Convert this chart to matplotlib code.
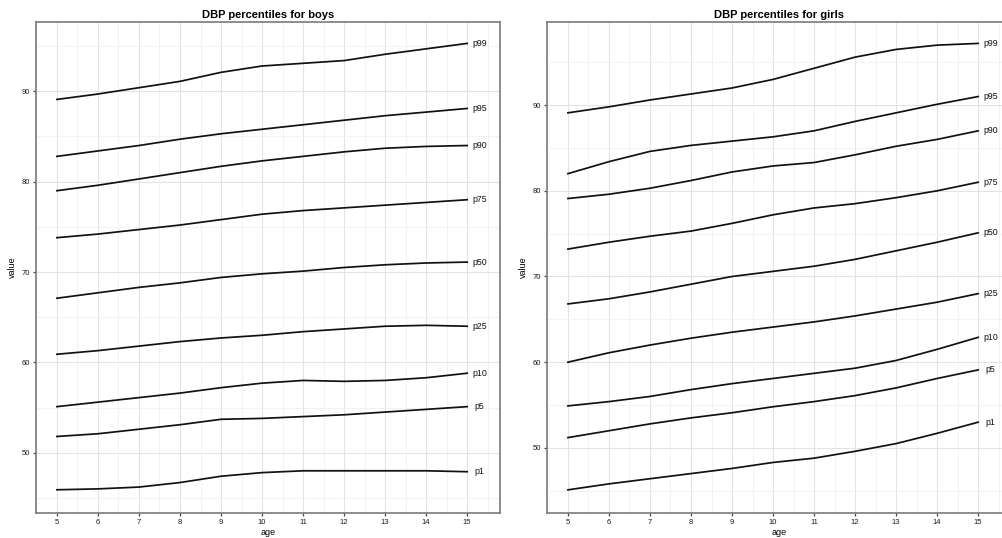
import matplotlib
matplotlib.use("Agg")
import matplotlib.pyplot as plt
from matplotlib.ticker import MultipleLocator

plt.rcParams['font.family'] = ['Liberation Sans', 'DejaVu Sans']

# ---- data ----
ages = [5, 6, 7, 8, 9, 10, 11, 12, 13, 14, 15]
pct_names = ["p99", "p95", "p90", "p75", "p50", "p25", "p10", "p5", "p1"]

boys_p99 = [89.1, 89.7, 90.4, 91.1, 92.1, 92.8, 93.1, 93.4, 94.1, 94.7, 95.3]
boys_p95 = [82.8, 83.4, 84.0, 84.7, 85.3, 85.8, 86.3, 86.8, 87.3, 87.7, 88.1]
boys_p90 = [79.0, 79.6, 80.3, 81.0, 81.7, 82.3, 82.8, 83.3, 83.7, 83.9, 84.0]
boys_p75 = [73.8, 74.2, 74.7, 75.2, 75.8, 76.4, 76.8, 77.1, 77.4, 77.7, 78.0]
boys_p50 = [67.1, 67.7, 68.3, 68.8, 69.4, 69.8, 70.1, 70.5, 70.8, 71.0, 71.1]
boys_p25 = [60.9, 61.3, 61.8, 62.3, 62.7, 63.0, 63.4, 63.7, 64.0, 64.1, 64.0]
boys_p10 = [55.1, 55.6, 56.1, 56.6, 57.2, 57.7, 58.0, 57.9, 58.0, 58.3, 58.8]
boys_p5 = [51.8, 52.1, 52.6, 53.1, 53.7, 53.8, 54.0, 54.2, 54.5, 54.8, 55.1]
boys_p1 = [45.9, 46.0, 46.2, 46.7, 47.4, 47.8, 48.0, 48.0, 48.0, 48.0, 47.9]

girls_p99 = [89.1, 89.8, 90.6, 91.3, 92.0, 93.0, 94.3, 95.6, 96.5, 97.0, 97.2]
girls_p95 = [82.0, 83.4, 84.6, 85.3, 85.8, 86.3, 87.0, 88.1, 89.1, 90.1, 91.0]
girls_p90 = [79.1, 79.6, 80.3, 81.2, 82.2, 82.9, 83.3, 84.2, 85.2, 86.0, 87.0]
girls_p75 = [73.2, 74.0, 74.7, 75.3, 76.2, 77.2, 78.0, 78.5, 79.2, 80.0, 81.0]
girls_p50 = [66.8, 67.4, 68.2, 69.1, 70.0, 70.6, 71.2, 72.0, 73.0, 74.0, 75.1]
girls_p25 = [60.0, 61.1, 62.0, 62.8, 63.5, 64.1, 64.7, 65.4, 66.2, 67.0, 68.0]
girls_p10 = [54.9, 55.4, 56.0, 56.8, 57.5, 58.1, 58.7, 59.3, 60.2, 61.5, 62.9]
girls_p5 = [51.2, 52.0, 52.8, 53.5, 54.1, 54.8, 55.4, 56.1, 57.0, 58.1, 59.1]
girls_p1 = [45.1, 45.8, 46.4, 47.0, 47.6, 48.3, 48.8, 49.6, 50.5, 51.7, 53.0]

boys = [boys_p99, boys_p95, boys_p90, boys_p75, boys_p50, boys_p25, boys_p10, boys_p5, boys_p1]
girls = [girls_p99, girls_p95, girls_p90, girls_p75, girls_p50, girls_p25, girls_p10, girls_p5, girls_p1]

W, H = 1002, 538
fig = plt.figure(figsize=(W / 100, H / 100), dpi=100)


def panel(rect, series, title, ylim):
    ax = fig.add_axes(rect)
    ax.set_xlim(4.49, 15.8)
    ax.set_ylim(*ylim)
    ax.xaxis.set_major_locator(MultipleLocator(1))
    ax.xaxis.set_minor_locator(MultipleLocator(0.5))
    ax.yaxis.set_major_locator(MultipleLocator(10))
    ax.yaxis.set_minor_locator(MultipleLocator(5))
    ax.grid(which='major', color='#e3e3e3', lw=0.8)
    ax.grid(which='minor', color='#f0f0f0', lw=0.6)
    ax.set_axisbelow(True)
    for s in ax.spines.values():
        s.set_color('#7a7a7a')
        s.set_linewidth(1.2)
    ax.tick_params(which='major', length=2.5, width=0.9, color='#444444',
                   labelsize=5.5, labelcolor='#1a1a1a', pad=2)
    ax.tick_params(which='minor', length=0)

    for name, vals in zip(pct_names, series):
        ax.plot(ages, vals, color='#111111', lw=1.25, solid_joinstyle='round')
        ax.text(15.3, vals[-1], name, ha='center', va='center', fontsize=6.3, color='#111111')

    ax.set_title(title, fontsize=8, fontweight='bold', pad=3)
    ax.set_xlabel("age", fontsize=6.5, labelpad=1)
    ax.set_ylabel("value", fontsize=6.5, labelpad=3)
    return ax


panel([36 / W, 25 / H, 464 / W, 491 / H], boys, "DBP percentiles for boys", (43.33, 97.67))
panel([547 / W, 25 / H, 464 / W, 491 / H], girls, "DBP percentiles for girls", (42.4, 99.7))

fig.savefig("out.png", dpi=100)
